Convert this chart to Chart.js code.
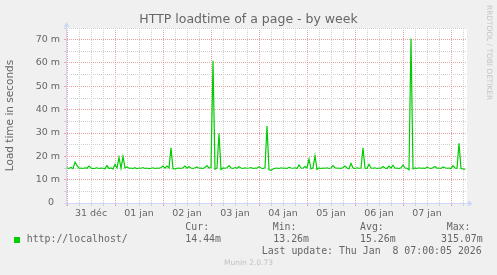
<!DOCTYPE html>
<html>
<head>
<meta charset="utf-8">
<script src="https://cdn.jsdelivr.net/npm/chart.js@4.4.1/dist/chart.umd.min.js"></script>
<style>
  body { margin: 0; background: #f0f0f0; }
  #wrap { position: relative; width: 497px; height: 275px; overflow: hidden; color: #666; font-family: "DejaVu Sans", sans-serif; }
  #c { position: absolute; left: 0; top: 0; }
  .t { position: absolute; white-space: pre; line-height: 1; }
  .m { font-family: "DejaVu Sans Mono", monospace; font-size: 9.9px; }
</style>
</head>
<body>
<div id="wrap">
  <canvas id="c" width="497" height="275"></canvas>
  <div class="t" style="left:0;width:497px;text-align:center;top:13.4px;font-size:12.5px">HTTP loadtime of a page - by week</div>
  <div class="t" style="left:485.3px;top:5px;font-size:7.4px;color:#c4c4c4;writing-mode:vertical-rl">RRDTOOL / TOBI OETIKER</div>
  <div style="position:absolute;left:14px;top:237px;width:6px;height:6px;background:#00cc00"></div>
  <div id="legend"></div>
  <div class="t" style="left:0;width:497px;text-align:center;top:259.4px;font-size:7.5px;color:#c0c0c0">Munin 2.0.73</div>
</div>
<script>
// load time in milliseconds, one value per hour starting 31 déc 00:00
var loadTime = [
  15.1, 14.8, 15.2, 14.7, 17.5, 16.0, 14.9, 15.0, 14.8, 15.1,
  14.9, 15.8, 15.0, 14.7, 14.9, 15.1, 14.8, 15.0, 14.9, 14.7,
  16.0, 14.8, 15.0, 14.6, 16.5, 15.0, 19.5, 14.9, 19.9, 15.1,
  15.5, 14.9, 15.0, 14.8, 15.1, 14.7, 15.0, 14.9, 15.2, 14.8,
  15.0, 14.7, 14.9, 15.1, 14.8, 15.0, 14.9, 15.2, 15.8, 14.9,
  15.8, 15.0, 23.7, 14.7, 14.6, 14.9, 15.0, 14.8, 15.1, 15.8,
  14.9, 15.5, 15.0, 14.8, 15.1, 15.5, 14.9, 15.0, 14.8, 15.2,
  16.0, 15.0, 15.2, 61.0, 14.5, 15.0, 29.8, 14.3, 15.0, 14.9,
  15.1, 16.0, 15.0, 14.8, 15.2, 14.9, 15.5, 15.0, 14.8, 15.1,
  14.9, 15.0, 15.2, 14.8, 15.0, 14.9, 15.5, 15.0, 14.8, 15.1,
  33.0, 14.2, 14.0, 14.6, 14.9, 15.0, 14.8, 15.1, 14.9, 15.0,
  14.8, 15.3, 15.0, 14.9, 15.1, 14.8, 16.3, 15.0, 14.9, 15.6,
  15.0, 18.8, 14.6, 15.1, 20.2, 14.4, 15.0, 14.8, 15.0, 14.9,
  15.1, 14.8, 15.0, 16.0, 15.1, 14.9, 15.0, 14.8, 15.2, 15.8,
  15.0, 14.7, 17.0, 15.0, 14.8, 15.1, 14.9, 15.0, 23.7, 15.0,
  14.8, 16.6, 15.0, 14.9, 15.1, 14.8, 15.0, 14.9, 15.6, 15.0,
  14.8, 15.8, 15.0, 16.2, 14.9, 15.0, 14.8, 15.1, 16.3, 15.0,
  14.9, 14.2, 70.5, 14.6, 15.0, 14.8, 15.1, 14.9, 15.0, 14.8,
  15.4, 15.0, 14.8, 15.1, 15.6, 14.9, 15.0, 14.8, 15.5, 15.1,
  14.9, 15.0, 14.8, 16.0, 15.0, 14.9, 25.6, 14.8, 14.6, 14.44
];
var dayLabels = ['31 déc', '01 jan', '02 jan', '03 jan', '04 jan', '05 jan', '06 jan', '07 jan'];
var statNames = ['Cur:', 'Min:', 'Avg:', 'Max:'];
var statValues = ['14.44m', '13.26m', '15.26m', '315.07m'];
var seriesName = 'http://localhost/';
var lastUpdate = 'Last update: Thu Jan  8 07:00:05 2026';

var MAJOR = '#e9a3a3';
var MINOR = '#d0d0d0';
var AXIS = '#cfd6f8';

// legend block, munin style
var headX = [185.3, 272.7, 360, 446.7];
var valX = [185.3, 273.3, 360, 441];
var html = '<div class="t m" style="left:26.7px;top:234.3px">' + seriesName + '</div>';
for (var i = 0; i < statNames.length; i++) {
  html += '<div class="t m" style="left:' + headX[i] + 'px;top:221.9px">' + statNames[i] + '</div>';
  html += '<div class="t m" style="left:' + valX[i] + 'px;top:234.3px">' + statValues[i] + '</div>';
}
html += '<div class="t m" style="left:261.7px;top:246.3px">' + lastUpdate + '</div>';
document.getElementById('legend').innerHTML = html;

var points = loadTime.map(function (v, i) { return { x: i, y: v }; });

var frame = {
  id: 'frame',
  beforeDraw: function (chart) {
    var ctx = chart.ctx, a = chart.chartArea;
    ctx.save();
    ctx.fillStyle = '#ffffff';
    ctx.fillRect(a.left, a.top, a.right - a.left, a.bottom - a.top);
    ctx.restore();
  },
  afterDraw: function (chart) {
    var ctx = chart.ctx, a = chart.chartArea;
    var x0 = a.left - 0.5, y0 = a.bottom + 0.5;
    ctx.save();
    ctx.strokeStyle = AXIS;
    ctx.fillStyle = AXIS;
    ctx.lineWidth = 1;
    ctx.beginPath();
    ctx.moveTo(a.left - 3, y0); ctx.lineTo(a.right + 3, y0);
    ctx.moveTo(x0, a.bottom + 3); ctx.lineTo(x0, a.top - 3);
    ctx.stroke();
    ctx.beginPath();
    ctx.moveTo(a.right + 1, y0 - 3); ctx.lineTo(a.right + 6, y0); ctx.lineTo(a.right + 1, y0 + 3);
    ctx.closePath(); ctx.fill();
    ctx.beginPath();
    ctx.moveTo(x0 - 3, a.top - 1); ctx.lineTo(x0, a.top - 6); ctx.lineTo(x0 + 3, a.top - 1);
    ctx.closePath(); ctx.fill();
    ctx.restore();
  }
};

Chart.defaults.font.family = 'DejaVu Sans';
Chart.defaults.color = '#666';

new Chart(document.getElementById('c'), {
  type: 'line',
  data: {
    datasets: [{
      label: seriesName,
      data: points,
      borderColor: '#00cc00',
      borderWidth: 1.2,
      pointRadius: 0,
      tension: 0,
      fill: false
    }]
  },
  options: {
    responsive: false,
    animation: false,
    events: [],
    layout: { padding: { left: 0, top: 28, right: 30, bottom: 50 } },
    plugins: { legend: { display: false }, title: { display: false }, tooltip: { enabled: false } },
    scales: {
      x: {
        type: 'linear', min: 0, max: 200,
        afterFit: function (s) { s.height = 22; },
        grid: {
          color: function (c) { return c.tick.value % 24 === 0 ? MAJOR : MINOR; },
          tickColor: function (c) { return c.tick.value % 24 === 0 ? MAJOR : MINOR; },
          tickLength: 3, lineWidth: 1
        },
        border: { display: false, dash: [1, 1] },
        ticks: {
          stepSize: 6, autoSkip: false, maxRotation: 0, includeBounds: false, padding: 2,
          font: { size: 9.5 },
          callback: function (v) { return v % 24 === 12 ? (dayLabels[(v - 12) / 24] || '') : ''; }
        }
      },
      y: {
        min: 0, max: 75,
        afterFit: function (s) { s.width = 67; },
        grid: {
          color: function (c) { return Math.round(c.tick.value) % 10 === 0 ? MAJOR : MINOR; },
          tickColor: function (c) { return Math.round(c.tick.value) % 10 === 0 ? MAJOR : MINOR; },
          tickLength: 3, lineWidth: 1
        },
        border: { display: false, dash: [1, 1] },
        ticks: {
          stepSize: 5, autoSkip: false, padding: 4,
          font: { size: 9.5 },
          callback: function (v) {
            v = Math.round(v);
            if (v === 0) return '0  ';
            return v % 10 === 0 ? v + ' m' : '';
          }
        },
        title: { display: true, text: 'Load time in seconds', font: { size: 10.5 }, padding: { top: 4, bottom: 0 } }
      }
    }
  },
  plugins: [frame]
});
</script>
</body>
</html>
